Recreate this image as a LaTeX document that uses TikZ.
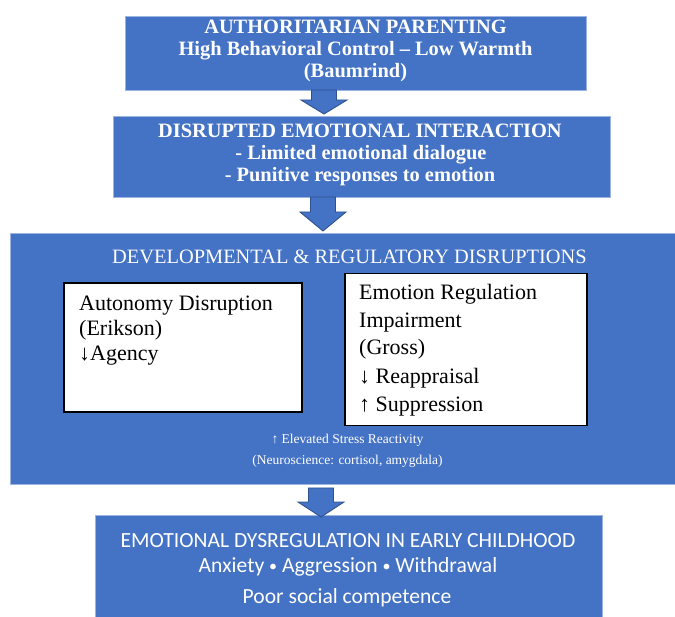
\documentclass[tikz,border=0pt]{standalone}
\usepackage{fontspec}
\setmainfont{Liberation Serif}
\newfontfamily\calfont{Carlito}
\usetikzlibrary{calc}
\definecolor{boxblue}{HTML}{4472C4}
\definecolor{edgeblue}{HTML}{9DB4E0}
\definecolor{arrowedge}{HTML}{2F528F}
\newcommand\smallbul{{\fontsize{16}{16}\selectfont\raisebox{0.5pt}{•}}}
\begin{document}
\begin{tikzpicture}[x=1pt,y=-1pt,
  bluebox/.style={fill=boxblue, draw=edgeblue, line width=0.8pt, anchor=north west, inner sep=0pt, outer sep=0pt},
  whitebox/.style={fill=white, draw=black, line width=1.6pt, anchor=north west, inner sep=0pt, outer sep=0pt},
  blockarrow/.style={fill=boxblue, draw=arrowedge, line width=0.9pt, line join=miter},
  boldline/.style={text=white, font=\fontsize{20.4}{24}\selectfont\bfseries, anchor=base, inner sep=0pt},
  titleline/.style={text=white, font=\fontsize{20.4}{24}\selectfont, anchor=base, inner sep=0pt},
  innerline/.style={text=black, font=\fontsize{22}{26}\selectfont, anchor=base west, inner sep=0pt},
  smallline/.style={text=white, font=\fontsize{13.5}{16}\selectfont, anchor=base, inner sep=0pt},
  sansline/.style={text=white, font=\calfont\fontsize{21.6}{26}\selectfont, anchor=base, inner sep=0pt},
  pics/blockdown/.style args={#1/#2}{code={
    \draw[blockarrow] (-12.5,0) -- (12.5,0) -- (12.5,#1) -- (23,#1) -- (0,#2) -- (-23,#1) -- (-12.5,#1) -- cycle;
  }}]
\useasboundingbox (0,0) rectangle (675,617);

% boxes
\node[bluebox, minimum width=461pt, minimum height=74pt] (b1) at (125,16) {};
\node[bluebox, minimum width=497pt, minimum height=81pt] (b2) at (113,116.5) {};
\node[bluebox, minimum width=670pt, minimum height=251pt] (b3) at (10,233) {};
\node[bluebox, minimum width=507pt, minimum height=110pt] (b4) at (95,515) {};

% arrows
\coordinate (ax1) at (324,0);
\coordinate (ax2) at (323,0);
\coordinate (ax3) at (321,0);
\pic at (b1.south -| ax1) {blockdown=10/24};
\pic at ($(b2.south -| ax2)+(0,-0.5)$) {blockdown=15/34};
\pic at ($(b3.south -| ax3)+(0,4)$) {blockdown=14/29};

% box 1 text
\node[boldline] (t11) at (355.5,34) {AUTHORITARIAN PARENTING};
\node[boldline] (t12) at (355.5,56) {High Behavioral Control – Low Warmth};
\node[boldline] (t13) at (355.5,78) {(Baumrind)};

% box 2 text
\node[boldline] (t21) at (360,138) {DISRUPTED EMOTIONAL INTERACTION};
\node[boldline] (t22) at (361,159.5) {- Limited emotional dialogue};
\node[boldline] (t23) at (360,182) {- Punitive responses to emotion};

% box 3
\node[titleline] (t31) at (349.5,264) {DEVELOPMENTAL \& REGULATORY DISRUPTIONS};
\node[whitebox, minimum width=238pt, minimum height=129pt] (lb) at (64,283) {};
\node[whitebox, minimum width=242pt, minimum height=152pt] (rb) at (345,273.5) {};
\node[innerline] (l1) at (79,311) {Autonomy Disruption};
\node[innerline] (l2) at (79,336) {(Erikson)};
\node[innerline] (l3) at (79,361) {↓Agency};
\node[innerline] (r1) at (359,300) {Emotion Regulation};
\node[innerline] (r2) at (359,328) {Impairment};
\node[innerline] (r3) at (359,355) {(Gross)};
\node[innerline] (r4) at (359,384) {↓ Reappraisal};
\node[innerline] (r5) at (359,412) {↑ Suppression};
\node[smallline] (s1) at (347.5,444) {↑ Elevated Stress Reactivity};
\node[smallline] (s2) at (347.5,465) {(Neuroscience: cortisol, amygdala)};

% box 4 text
\node[sansline] (t41) at (348,547) {EMOTIONAL DYSREGULATION IN EARLY CHILDHOOD};
\node[sansline] (t42) at (348,572) {Anxiety \smallbul{} Aggression \smallbul{} Withdrawal};
\node[sansline] (t43) at (347,603) {Poor social competence};
\end{tikzpicture}
\end{document}
